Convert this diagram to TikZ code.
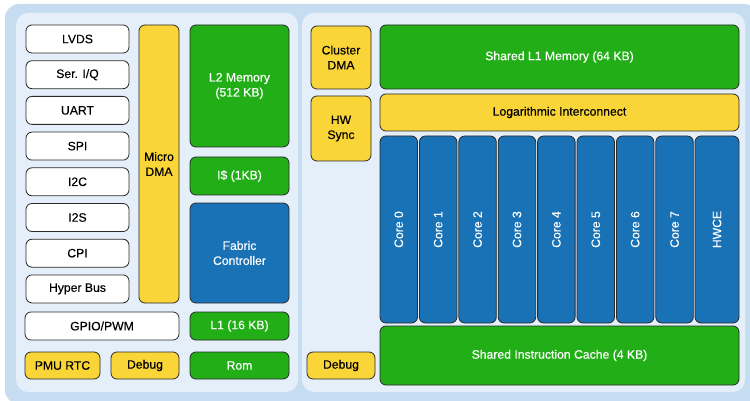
\documentclass[tikz,border=0pt]{standalone}
\usepackage{fontspec}
\setmainfont{Liberation Sans}[FakeBold=0.3]
\definecolor{outerc}{HTML}{C6DDF1}
\definecolor{innerc}{HTML}{E4EFFA}
\definecolor{grn}{HTML}{22AE17}
\definecolor{yel}{HTML}{F9D538}
\definecolor{blu}{HTML}{1872B5}
\definecolor{bordc}{HTML}{2A2A2A}
\tikzset{
  blk/.style={draw=bordc, line width=0.8pt, rounded corners=6pt, inner sep=0pt, outer sep=0pt,
    align=center, font=\fontsize{12.2}{15}\selectfont},
  wbox/.style={blk, fill=white, text=black},
  ybox/.style={blk, fill=yel, text=black},
  gbox/.style={blk, fill=grn, text=white},
  bluebox/.style={blk, fill=blu, text=white},
  panel/.style={fill=innerc, rounded corners=12pt},
}
\newcommand\mkbox[7]{\node[#6, minimum width={#4-#2}, minimum height={#5-#3}] (#1) at ({(#2+#4)/2},{(#3+#5)/2}) {#7};}
\begin{document}
\begin{tikzpicture}[x=1pt,y=-1pt]
\useasboundingbox (0,0) rectangle (750,401);
\clip (0,0) rectangle (750,401);
\fill[outerc, rounded corners=14pt] (5,4) rectangle (758,404);
\fill[panel] (16,13) rectangle (298,392);
\fill[panel] (302,13) rectangle (745,392);
% left column
\mkbox{lvds}{26}{25}{129}{53}{wbox}{LVDS}
\mkbox{seriq}{26}{60.7}{129}{88.7}{wbox}{Ser. I/Q}
\mkbox{uart}{26}{96.4}{129}{124.4}{wbox}{UART}
\mkbox{spi}{26}{132.1}{129}{160.1}{wbox}{SPI}
\mkbox{itwoc}{26}{167.8}{129}{195.8}{wbox}{I2C}
\mkbox{itwos}{26}{203.5}{129}{231.5}{wbox}{I2S}
\mkbox{cpi}{26}{239.2}{129}{267.2}{wbox}{CPI}
\mkbox{hyper}{26}{274.9}{129}{302.9}{wbox}{Hyper Bus}
\mkbox{udma}{139}{25}{179}{303}{ybox}{Micro\\DMA}
\mkbox{ltwo}{190}{25}{289}{147}{gbox}{L2 Memory\\(512 KB)}
\mkbox{icache}{190}{157}{289}{195}{gbox}{I\$ (1KB)}
\mkbox{fc}{190}{203}{289}{303}{bluebox}{Fabric\\Controller}
\mkbox{gpio}{25}{312}{179}{340}{wbox}{GPIO/PWM}
\mkbox{lone}{190}{312}{289}{340}{gbox}{L1 (16 KB)}
\mkbox{pmu}{25}{352}{100}{379}{ybox}{PMU RTC}
\mkbox{dbga}{111}{352}{179}{379}{ybox}{Debug}
\mkbox{rom}{190}{352}{289}{379}{gbox}{Rom}
% right (cluster)
\mkbox{cdma}{311}{26}{371}{89}{ybox}{Cluster\\DMA}
\mkbox{hws}{311}{96}{371}{161}{ybox}{HW\\Sync}
\mkbox{sl}{380}{25}{739}{89}{gbox}{Shared L1 Memory (64 KB)}
\mkbox{logi}{380}{94}{739}{131}{ybox}{Logarithmic Interconnect}
\foreach \i in {0,...,7}{
  \pgfmathsetmacro\xa{380+39.4*\i}
  \pgfmathsetmacro\xb{\xa+37.5}
  \node[bluebox, rotate=90, minimum width=187pt, minimum height=37.5pt] (core\i)
    at ({(\xa+\xb)/2},229.5) {Core \i};
}
\node[bluebox, rotate=90, minimum width=187pt, minimum height=44pt] (hwce) at (717,229.5) {HWCE};
\mkbox{sic}{380}{326}{739}{385}{gbox}{Shared Instruction Cache (4 KB)}
\mkbox{dbgb}{307}{352}{375}{379}{ybox}{Debug}
\end{tikzpicture}
\end{document}
